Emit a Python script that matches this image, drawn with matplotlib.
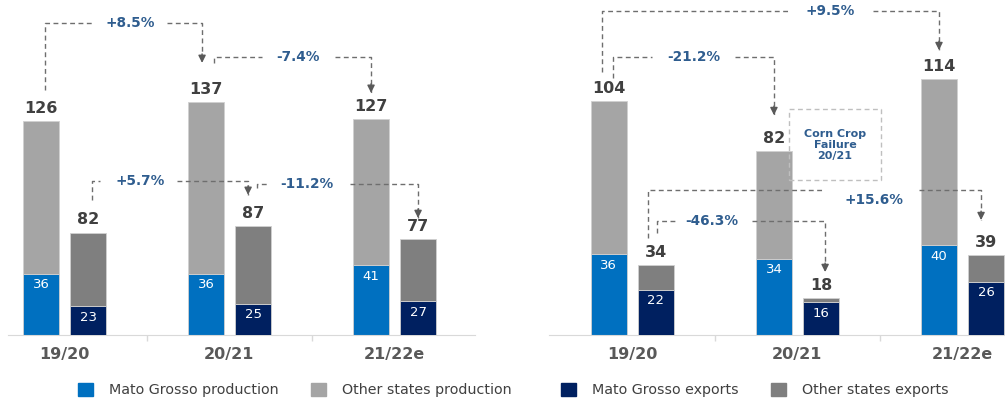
import numpy as np
import matplotlib
matplotlib.use("Agg")
import matplotlib.pyplot as plt
from matplotlib.patches import Rectangle, Patch

# harvest seasons
seasons = ["19/20", "20/21", "21/22e"]

# soybean (million t): Mato Grosso share and Brazil total
soy_mt_prod = [36, 36, 41]
soy_total_prod = [126, 137, 127]
soy_mt_exp = [23, 25, 27]
soy_total_exp = [82, 87, 77]

# corn (million t)
corn_mt_prod = [36, 34, 40]
corn_total_prod = [104, 82, 114]
corn_mt_exp = [22, 16, 26]
corn_total_exp = [34, 18, 39]

# year-on-year changes shown on the connectors
soy_changes = ["+8.5%", "-7.4%", "+5.7%", "-11.2%"]
corn_changes = ["+9.5%", "-21.2%", "+15.6%", "-46.3%"]

MT_PROD = "#0070c0"
OTH_PROD = "#a5a5a5"
MT_EXP = "#002060"
OTH_EXP = "#7f7f7f"
PCT_COLOR = "#2f5d8f"
LINE_COLOR = "#6e6e6e"
TXT = "#404040"

W, H = 1005, 400
BAR_W = 0.22
OFF_P, OFF_E = -0.14, 0.145


def draw_panel(fig, rect, xlim, prod_top, exp_top, mt_prod, tot_prod, mt_exp, tot_exp):
    ax = fig.add_axes(rect)
    ax2 = ax.twinx()
    x = np.arange(len(seasons))
    mt_prod = np.array(mt_prod)
    tot_prod = np.array(tot_prod)
    mt_exp = np.array(mt_exp)
    tot_exp = np.array(tot_exp)

    edge = dict(edgecolor="#d0d0d0", linewidth=0.6)
    b1 = ax.bar(x + OFF_P, mt_prod, BAR_W, color=MT_PROD, **edge)
    b2 = ax.bar(x + OFF_P, tot_prod - mt_prod, BAR_W, bottom=mt_prod, color=OTH_PROD, **edge)
    b3 = ax2.bar(x + OFF_E, mt_exp, BAR_W, color=MT_EXP, **edge)
    b4 = ax2.bar(x + OFF_E, tot_exp - mt_exp, BAR_W, bottom=mt_exp, color=OTH_EXP, **edge)

    for a, xs, mt, tot in [(ax, x + OFF_P, mt_prod, tot_prod), (ax2, x + OFF_E, mt_exp, tot_exp)]:
        for xi, m, t in zip(xs, mt, tot):
            a.annotate(f"{t}", (xi, t), xytext=(0, 5), textcoords="offset pixels",
                       ha="center", va="bottom", fontsize=11.5, fontweight="bold", color=TXT)
            a.annotate(f"{m}", (xi, m), xytext=(0, -11), textcoords="offset pixels",
                       ha="center", va="center", fontsize=9.5, color="white")

    ax.set_xlim(*xlim)
    ax.set_ylim(0, prod_top)
    ax2.set_ylim(0, exp_top)
    ax.set_xticks(x)
    ax.set_xticklabels(seasons, fontsize=11.5, fontweight="bold", color="#595959")
    ax.set_xticks([0.5, 1.5], minor=True)
    ax.tick_params(axis="x", which="major", length=0, pad=9)
    ax.tick_params(axis="x", which="minor", length=4, color="#d9d9d9", width=1)
    ax.set_yticks([])
    ax2.set_yticks([])
    for a in (ax, ax2):
        for s in ("top", "left", "right"):
            a.spines[s].set_visible(False)
    ax.spines["bottom"].set_color("#d9d9d9")
    ax2.spines["bottom"].set_visible(False)
    return ax, (b1, b2, b3, b4)


def connector(ax, label, x0, y0, x1, y1, ytop, gap, label_x, label_y=None):
    style = dict(color=LINE_COLOR, lw=1, linestyle=(0, (3.5, 2.5)), zorder=5, clip_on=False)
    ax.plot([x0, x0, gap[0]], [y0, ytop, ytop], **style)
    ax.plot([gap[1], x1, x1], [ytop, ytop, y1], **style)
    ax.annotate("", xy=(x1, y1), xytext=(0, 9), textcoords="offset pixels",
                arrowprops=dict(arrowstyle="-|>", color="#595959", lw=1,
                                shrinkA=0, shrinkB=0, mutation_scale=11), zorder=6)
    ax.text(label_x, ytop if label_y is None else label_y, label, ha="center", va="center",
            fontsize=9.8, fontweight="bold", color=PCT_COLOR, zorder=6)


fig = plt.figure(figsize=(W / 100, H / 100), dpi=100)

# soybean panel
ax_l, handles = draw_panel(fig, [8 / W, 65 / H, 467 / W, 335 / H], (-0.34, 2.49), 197, 268,
                           soy_mt_prod, soy_total_prod, soy_mt_exp, soy_total_exp)
connector(ax_l, soy_changes[0], -0.115, 144, 0.836, 160, 183.5, (0.17, 0.624), 0.40)
connector(ax_l, soy_changes[1], 0.91, 160, 1.86, 142.4, 163.5, (1.2, 1.642), 1.418)
connector(ax_l, soy_changes[2], 0.17, 79.4, 1.115, 82.4, 90.6, (0.218, 0.685), 0.46)
connector(ax_l, soy_changes[3], 1.17, 86.5, 2.145, 68.8, 88.8, (1.23, 1.733), 1.47)

# corn panel
ax_r, _ = draw_panel(fig, [549 / W, 65 / H, 456 / W, 335 / H], (-0.503, 2.26), 149, 163.4,
                     corn_mt_prod, corn_total_prod, corn_mt_exp, corn_total_exp)
connector(ax_r, corn_changes[0], -0.18, 116.9, 1.86, 126.7, 144, (0.945, 1.46), 1.2)
connector(ax_r, corn_changes[1], -0.115, 114.2, 0.86, 97.8, 123.6, (0.12, 0.624), 0.376)
connector(ax_r, corn_changes[2], 0.097, 43.1, 2.115, 51.1, 64.4, (1.17, 1.74), 1.467, 60)
connector(ax_r, corn_changes[3], 0.15, 45.3, 1.17, 28, 50.7, (0.26, 0.727), 0.485)

ax_r.add_patch(Rectangle((0.95, 68.9), 0.56, 31.5, fill=False, edgecolor="#bfbfbf",
                         lw=1, linestyle=(0, (3.5, 2.5)), zorder=5))
ax_r.text(1.23, 84.4, "Corn Crop\nFailure\n20/21", ha="center", va="center", fontsize=8,
          fontweight="bold", color=PCT_COLOR, linespacing=1.1, zorder=6)

# legend row along the bottom
leg_kw = dict(loc="center left", ncol=2, frameon=False, fontsize=10.3, borderpad=0,
              borderaxespad=0, handlelength=1.05, handleheight=1.05, handletextpad=1.1,
              columnspacing=2.3, labelcolor=TXT)
fig.legend([Patch(color=MT_PROD), Patch(color=OTH_PROD)],
           ["Mato Grosso production", "Other states production"],
           bbox_to_anchor=(78 / W, 1 - 390 / H), **leg_kw)
fig.legend([Patch(color=MT_EXP), Patch(color=OTH_EXP)],
           ["Mato Grosso exports", "Other states exports"],
           bbox_to_anchor=(561 / W, 1 - 390 / H), **leg_kw)

fig.savefig("out.png", dpi=100)
